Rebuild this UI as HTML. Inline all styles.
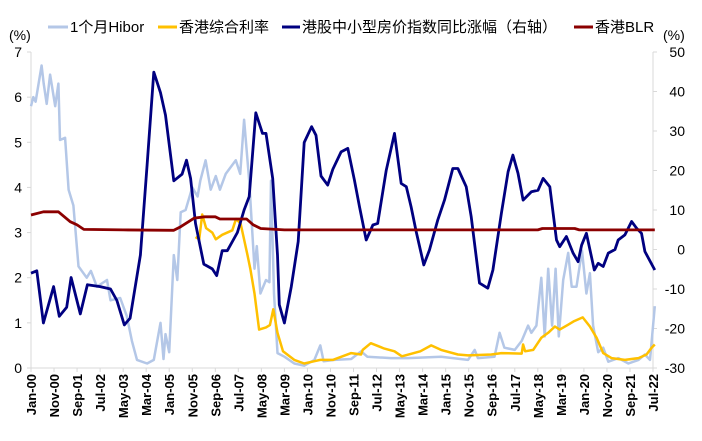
<!DOCTYPE html>
<html><head><meta charset="utf-8">
<style>
body{margin:0;background:#fff;width:702px;height:436px;overflow:hidden}
svg text{font-family:"Liberation Sans","Noto Sans CJK SC",sans-serif;fill:#000}
</style></head>
<body>
<svg id="chart" width="702" height="436" viewBox="0 0 702 436" xmlns="http://www.w3.org/2000/svg">
<g id="legend">
 <g><line x1="48" y1="27" x2="68" y2="27" stroke="#b4c7e7" stroke-width="3"/><text x="70" y="32" font-size="15">1个月Hibor</text></g>
 <g><line x1="158" y1="27" x2="177" y2="27" stroke="#ffc000" stroke-width="3"/><text x="179" y="32" font-size="15">香港综合利率</text></g>
 <g><line x1="282" y1="27" x2="300" y2="27" stroke="#000080" stroke-width="3"/><text x="302" y="32" font-size="15">港股中小型房价指数同比涨幅（右轴）</text></g>
 <g><line x1="574" y1="27" x2="593" y2="27" stroke="#8b0000" stroke-width="3"/><text x="595" y="32" font-size="15">香港BLR</text></g>
</g>
<text x="9" y="40" font-size="14">(%)</text>
<text x="663" y="40" font-size="14">(%)</text>
<g id="axes"></g>
<g id="series"></g>
</svg>
<script>
const hiborM=[0,1,2,4.6,5.5,6.8,8.3,10.5,11.9,12.6,14.8,16.3,18.4,20.6,24.2,26,28.6,33,34.5,38.7,41.6,43.8,46,50.4,53.3,56.2,57.5,58.4,60,62,63.5,65,67.1,70,72.3,73.5,75.8,78,80.2,82,84.5,88.9,90.8,92.5,94.7,97,98,99.6,102,103.5,104.2,105.5,107,110,114.3,118.6,123,125.6,127,131.7,139,143.3,146,156.3,163.6,178,189.7,192.6,194,201.2,203.4,205.5,210,213,215.8,217.2,219.4,221.5,223,224.5,226.2,227.7,229.1,231,233.2,234.7,236.8,239.2,241.1,242.6,244,246.2,248.4,250.6,255,259.3,263.7,266.5,268.7,270.8];
const hiborV=[5.8,6.0,5.9,6.7,6.3,5.85,6.5,5.8,6.3,5.05,5.1,3.95,3.6,2.25,2.0,2.15,1.8,1.95,1.5,1.55,1.15,0.6,0.18,0.1,0.18,1.0,0.2,0.75,0.35,2.5,1.95,3.45,3.5,4.0,3.8,4.15,4.6,3.95,4.25,3.95,4.3,4.6,4.3,5.5,4.15,2.2,2.7,1.65,1.95,1.9,4.15,1.65,0.33,0.25,0.1,0.05,0.18,0.5,0.15,0.18,0.2,0.37,0.25,0.22,0.22,0.25,0.18,0.4,0.22,0.25,0.78,0.45,0.4,0.6,0.94,0.78,0.94,2.0,0.7,2.2,0.94,2.2,0.7,1.95,2.55,1.8,1.8,2.6,1.65,2.1,0.94,0.35,0.45,0.14,0.22,0.1,0.18,0.3,0.18,1.37];
const compM=[71.4,73,74.3,76,78.7,80.2,83,87.4,89,91,94,95.2,97,99,102,103.7,105.2,107,109.4,114.3,118.6,123,125.6,131,139,143.3,144,147.5,153.4,157.8,161,169,173.7,178,185.3,189.7,199.8,204.2,213,213.6,214.5,218,221.5,224.5,227.4,229.5,233.2,235.8,239.5,242.6,245.5,248.4,252,257.8,263.7,267.2,269.4,270.8];
const compV=[2.9,2.85,3.4,3.1,3.0,2.85,2.95,3.05,3.3,3.2,2.5,2.2,1.65,0.85,0.9,0.95,1.3,0.78,0.37,0.18,0.1,0.15,0.18,0.18,0.33,0.3,0.4,0.55,0.43,0.37,0.26,0.37,0.5,0.4,0.3,0.28,0.3,0.33,0.32,0.52,0.37,0.4,0.67,0.78,0.92,0.85,0.96,1.04,1.12,0.92,0.67,0.33,0.22,0.18,0.22,0.3,0.45,0.52];
const houseM=[0,2.5,5.4,9.8,12.3,15.5,17.4,21.4,24.5,30,34.5,37.3,40.5,43,47.5,50.4,53.3,56.2,58.4,62,65.6,67.5,69.3,71.4,75,78.7,80.6,83,85.2,89.6,92.5,94.7,97.6,100.5,102,104.9,107,107.8,110,113,116,118.6,121.8,123.7,125.9,128.8,131,134.6,137.5,140.4,142.6,145.5,148.4,150.5,154.2,157.8,160.7,162.9,165,167.2,170.5,173,176.6,179.5,183.1,185.3,188.9,191.1,194.7,198.3,200.5,204.2,207.1,209.2,211.4,213.6,217.2,220.1,222.3,225.2,228.1,229.5,232.4,235.3,237.5,239,241.1,244.5,246.2,248.4,250.6,253.5,254.9,257.8,260.7,262.9,265,266.5,270.8];
const houseV=[-6,-5.4,-18.6,-9.4,-16.9,-14.6,-7.1,-16.3,-8.9,-9.4,-10,-12.9,-19.1,-17.4,-1.4,21.4,44.9,39.7,34,17.4,19.1,22.6,18,6.6,-3.7,-4.9,-6.6,-0.3,-0.3,4.3,10,13.4,34.6,29.4,29.4,18,-1.4,-14,-18.6,-9.4,2,27.1,31.1,28.9,18.6,16.3,20.3,24.7,25.6,17.6,10.8,2.4,6.2,6.6,20,29.4,16.7,15.9,10.8,4.5,-3.9,-0.1,7.5,12.5,20.5,20.5,15.9,8.3,-8.5,-9.8,-5.2,9.2,19.7,23.9,19.3,12.5,14.6,15,18,15.9,2.4,0.7,3.3,-0.9,-3.1,1.1,4.1,-5.2,-3.5,-4.3,-0.9,0,2.4,3.7,7.1,5.4,4.1,-0.5,-5.2];
const blrM=[0,5.4,11.9,17,20,22.9,40,62,65,70.9,75.3,80,82,93.6,96.5,99.7,110,220,222,236,238,270.8];
const blrV=[3.39,3.46,3.46,3.24,3.17,3.07,3.06,3.05,3.13,3.32,3.35,3.35,3.3,3.3,3.17,3.09,3.06,3.06,3.09,3.09,3.06,3.06];
const leftTicks=[0,1,2,3,4,5,6,7];
const rightTicks=[-30,-20,-10,0,10,20,30,40,50];
const xLabels=["Jan-00","Nov-00","Sep-01","Jul-02","May-03","Mar-04","Jan-05","Nov-05","Sep-06","Jul-07","May-08","Mar-09","Jan-10","Nov-10","Sep-11","Jul-12","May-13","Mar-14","Jan-15","Nov-15","Sep-16","Jul-17","May-18","Mar-19","Jan-20","Nov-20","Sep-21","Jul-22"];

const X0=31,X1=653,YT=52,YB=368,MMAX=270;
const xs=m=>X0+(X1-X0)*m/MMAX;
const yl=v=>YB-(YB-YT)*v/7;
const yr=v=>YB-(YB-YT)*(v+30)/80;
const NS="http://www.w3.org/2000/svg";
function mk(t,a,p){const e=document.createElementNS(NS,t);for(const k in a)e.setAttribute(k,a[k]);p.appendChild(e);return e;}
const axes=document.getElementById('axes'),ser=document.getElementById('series');
let e=mk('line',{x1:X0,y1:YT,x2:X0,y2:YB,stroke:'#d9d9d9','stroke-width':1},axes);


e=mk('line',{x1:X1,y1:YT,x2:X1,y2:YB,stroke:'#d9d9d9','stroke-width':1},axes);


e=mk('line',{x1:X0,y1:YB,x2:X1,y2:YB,stroke:'#d9d9d9','stroke-width':1},axes);


leftTicks.forEach(v=>{
 mk('line',{x1:X0-4,y1:yl(v),x2:X0,y2:yl(v),stroke:'#d9d9d9'},axes);
 const t=mk('text',{x:22,y:yl(v)+5,'font-size':14,'text-anchor':'end'},axes);t.textContent=v;
 
 
});
rightTicks.forEach(v=>{
 mk('line',{x1:X1,y1:yr(v),x2:X1+4,y2:yr(v),stroke:'#d9d9d9'},axes);
 const t=mk('text',{x:685,y:yr(v)+5,'font-size':14,'text-anchor':'end'},axes);t.textContent=v;
 
 
});
xLabels.forEach((s,i)=>{
 const x=xs(i*10);
 mk('line',{x1:x,y1:YB,x2:x,y2:YB+4,stroke:'#d9d9d9'},axes);
 const t=mk('text',{x:0,y:0,'font-size':13,'font-weight':'bold','text-anchor':'end',transform:`translate(${x+5},${YB+6}) rotate(-90)`},axes);t.textContent=s;
 
 
});
function line(M,V,yf,color,w,name){
 const d=M.map((m,i)=>(i?'L':'M')+xs(m).toFixed(1)+','+yf(V[i]).toFixed(1)).join('');
 const p=mk('path',{d:d,fill:'none',stroke:color,'stroke-width':w,'stroke-linejoin':'round'},ser);
 
 
}
line(hiborM,hiborV,yl,'#b4c7e7',2.5,'hibor-line');
line(compM,compV,yl,'#ffc000',2.5,'composite-rate-line');
line(houseM,houseV,yr,'#000080',2.8,'house-price-yoy-line');
line(blrM,blrV,yl,'#8b0000',2.8,'blr-line');
</script>
</body></html>
